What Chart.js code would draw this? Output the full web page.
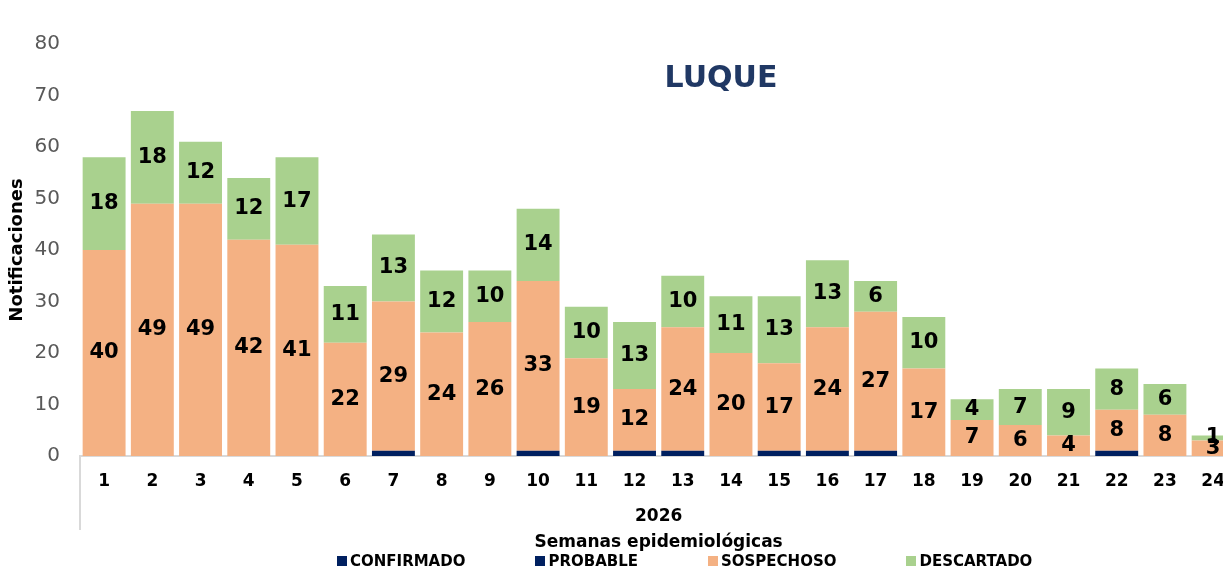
<!DOCTYPE html>
<html>
<head>
<meta charset="utf-8">
<script src="https://cdn.jsdelivr.net/npm/chart.js@4.4.0/dist/chart.umd.min.js"></script>
<style>
html, body { margin: 0; padding: 0; overflow: hidden; background: #fff; width: 1223px; height: 575px; }
#wrap { position: relative; width: 1240px; height: 575px; }
#titulo { position: absolute; left: 621px; top: 60px; width: 200px; text-align: center;
  font: bold 30px "DejaVu Sans"; line-height: 34px; color: #203864; }
#leyenda { position: absolute; left: 337px; top: 551px; display: flex; gap: 70px;
  font: bold 15px "DejaVu Sans"; line-height: 20px; color: #000; white-space: nowrap; }
#leyenda span.box { display: inline-block; width: 10px; height: 10px; margin-right: 3px; }
</style>
</head>
<body>
<div id="wrap">
  <canvas id="grafico" width="1240" height="575"></canvas>
  <div id="titulo">LUQUE</div>
  <div id="leyenda"></div>
</div>
<script>
// semanas epidemiologicas 2026
const semanas = ['1','2','3','4','5','6','7','8','9','10','11','12','13','14','15','16','17','18','19','20','21','22','23','24'];
const confirmado = [0,0,0,0,0,0,1,0,0,1,0,1,1,0,1,1,1,0,0,0,0,1,0,0];
const probable   = [0,0,0,0,0,0,0,0,0,0,0,0,0,0,0,0,0,0,0,0,0,0,0,0];
const sospechoso = [40,49,49,42,41,22,29,24,26,33,19,12,24,20,17,24,27,17,7,6,4,8,8,3];
const descartado = [18,18,12,12,17,11,13,12,10,14,10,13,10,11,13,13,6,10,4,7,9,8,6,1];

const fuente = '"DejaVu Sans"';

// numeros dentro de las barras (solo sospechoso y descartado)
const etiquetas = {
  id: 'etiquetas',
  afterDatasetsDraw(chart) {
    const ctx = chart.ctx;
    ctx.save();
    ctx.font = 'bold 21px ' + fuente;
    ctx.fillStyle = '#000';
    ctx.textAlign = 'center';
    ctx.textBaseline = 'middle';
    [2, 3].forEach(i => {
      const meta = chart.getDatasetMeta(i);
      meta.data.forEach((bar, j) => {
        const v = chart.data.datasets[i].data[j];
        if (!v) return;
        ctx.fillText(String(v), bar.x, (bar.y + bar.base) / 2);
      });
    });
    ctx.restore();
  }
};

// linea vertical del grupo "2026" debajo del eje
const separador = {
  id: 'separador',
  afterDraw(chart) {
    const a = chart.chartArea, ctx = chart.ctx;
    ctx.save();
    ctx.strokeStyle = '#d9d9d9';
    ctx.lineWidth = 2;
    ctx.beginPath();
    ctx.moveTo(a.left, a.bottom);
    ctx.lineTo(a.left, 530);
    ctx.stroke();
    ctx.restore();
  }
};

const ctx = document.getElementById('grafico').getContext('2d');
const chart = new Chart(ctx, {
  type: 'bar',
  data: {
    labels: semanas,
    datasets: [
      { label: 'CONFIRMADO', data: confirmado, backgroundColor: '#002060' },
      { label: 'PROBABLE', data: probable, backgroundColor: '#002060' },
      { label: 'SOSPECHOSO', data: sospechoso, backgroundColor: '#f4b183' },
      { label: 'DESCARTADO', data: descartado, backgroundColor: '#a9d18e' }
    ]
  },
  options: {
    responsive: false,
    animation: false,
    layout: { padding: { top: 44, right: 1, bottom: 19, left: 0 } },
    datasets: { bar: { barPercentage: 0.89, categoryPercentage: 1 } },
    plugins: {
      legend: { display: false },
      tooltip: { enabled: false }
    },
    scales: {
      x: {
        stacked: true,
        grid: { display: false, drawTicks: false },
        border: { display: true, color: '#d9d9d9', width: 2 },
        ticks: { color: '#000', font: { family: fuente, size: 17, weight: 'bold' }, padding: 15, maxRotation: 0, autoSkip: false },
        title: {
          display: true,
          text: ['2026', 'Semanas epidemiológicas'],
          color: '#000',
          font: { family: fuente, size: 17, weight: 'bold', lineHeight: 1.53 },
          padding: { top: 13, bottom: 0 }
        },
        afterFit(scale) { scale.height = 100; }
      },
      y: {
        stacked: true,
        min: 0,
        max: 80,
        grid: { display: false, drawTicks: false },
        border: { display: false },
        ticks: { stepSize: 10, color: '#595959', font: { family: fuente, size: 20 }, padding: 20 },
        title: {
          display: true,
          text: 'Notificaciones',
          color: '#000',
          font: { family: fuente, size: 18, weight: 'bold' },
          padding: { top: 7, bottom: 6 }
        },
        afterFit(scale) { scale.width = 80; }
      }
    }
  },
  plugins: [etiquetas, separador]
});

// leyenda en html
const leyenda = document.getElementById('leyenda');
chart.data.datasets.forEach(ds => {
  const item = document.createElement('div');
  item.innerHTML = '<span class="box" style="background:' + ds.backgroundColor + '"></span>' + ds.label;
  leyenda.appendChild(item);
});
</script>
</body>
</html>
